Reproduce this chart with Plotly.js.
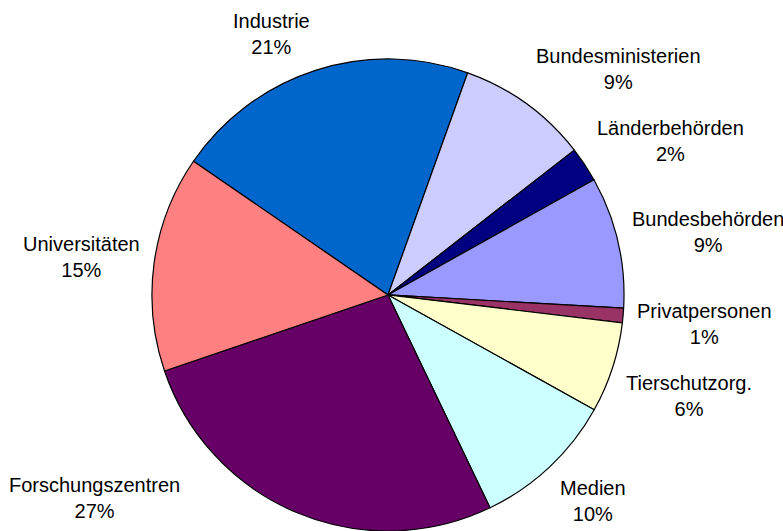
<!DOCTYPE html>
<html>
<head>
<meta charset="utf-8">
<script src="https://cdn.plot.ly/plotly-3.0.1.min.js"></script>
<style>html,body{margin:0;padding:0;background:#fff;}#chart{width:783px;height:531px;}</style>
</head>
<body>
<div id="chart"></div>
<script>
const categories = ["Industrie", "Bundesministerien", "Länderbehörden", "Bundesbehörden", "Privatpersonen", "Tierschutzorg.", "Medien", "Forschungszentren", "Universitäten"];
const shares = [20.9, 9.0, 2.4, 9.0, 1.0, 6.2, 9.8, 26.9, 14.8];
const sliceColors = ["#0066CC", "#CCCCFF", "#000080", "#9999FF", "#993366", "#FFFFCC", "#CCFFFF", "#660066", "#FF8080"];

const W = 783, H = 531;
const ROTATION = -55.5;
const DOM_X = [0.1928, 0.7982], DOM_Y = [0, 0.889];
const FONT = {family: "Liberation Sans, Arial, sans-serif", size: 20, color: "#000000"};
const LABEL_GAP = 12;          // distance between pie edge and label box
const LABEL_GAP_MOVED = 36;    // distance used when a label had to be moved to fit
const LABEL_BOX_H = 50;        // approx. height of a two-line label box

// pie geometry as plotly lays it out (no margins)
const cx = W * (DOM_X[0] + DOM_X[1]) / 2;
const cy = H * (1 - (DOM_Y[0] + DOM_Y[1]) / 2);
const R = Math.min(W * (DOM_X[1] - DOM_X[0]), H * (DOM_Y[1] - DOM_Y[0])) / 2;
const rr = R + LABEL_GAP;

const total = shares.reduce((a, b) => a + b, 0);
const annotations = [];
let start = ROTATION;
shares.forEach((v, i) => {
  const span = v / total * 360;
  const mid = (start + span / 2) * Math.PI / 180;
  start += span;
  const s = Math.sin(mid), c = Math.cos(mid);
  let px = cx + rr * s;
  let py = cy - rr * c;
  const xanchor = s > 0.1 ? "left" : (s < -0.1 ? "right" : "center");
  const f = Math.max(-1, Math.min(1, c > 0 ? c / 0.8 : c / 0.3));
  // box centre (pixels, y down)
  let bcy = py - (LABEL_BOX_H / 2) * f;
  // labels that do not fit inside the canvas are moved
  const limMax = H - LABEL_BOX_H / 2, limMin = LABEL_BOX_H / 2;
  if (bcy > limMax || bcy < limMin) {
    bcy = Math.max(limMin + 3, Math.min(limMax - 8, bcy));
    // push sideways so the inner corner stays clear of the pie
    const r2 = R + LABEL_GAP_MOVED;
    const cornerY = bcy > cy ? bcy - LABEL_BOX_H / 2 : bcy + LABEL_BOX_H / 2;
    const dy = Math.abs(cornerY - cy);
    if (dy < r2) {
      const dx = Math.sqrt(r2 * r2 - dy * dy);
      if (xanchor === "right") px = Math.min(px, cx - dx);
      if (xanchor === "left") px = Math.max(px, cx + dx);
    }
  }
  annotations.push({
    xref: "paper", yref: "paper",
    x: px / W, y: 1 - bcy / H,
    xanchor: xanchor, yanchor: "middle",
    text: categories[i] + "<br>" + Math.round(v / total * 100) + "%",
    align: "center", showarrow: false, font: FONT
  });
});

const trace = {
  type: "pie",
  labels: categories,
  values: shares,
  sort: false,
  direction: "clockwise",
  rotation: ROTATION,
  marker: {colors: sliceColors, line: {color: "#000000", width: 1.2}},
  textinfo: "none",
  hoverinfo: "label+percent",
  domain: {x: DOM_X, y: DOM_Y}
};

const layout = {
  width: W,
  height: H,
  margin: {l: 0, r: 0, t: 0, b: 0},
  paper_bgcolor: "#ffffff",
  plot_bgcolor: "#ffffff",
  showlegend: false,
  annotations: annotations
};

Plotly.newPlot("chart", [trace], layout, {displayModeBar: false, staticPlot: true});
</script>
</body>
</html>
